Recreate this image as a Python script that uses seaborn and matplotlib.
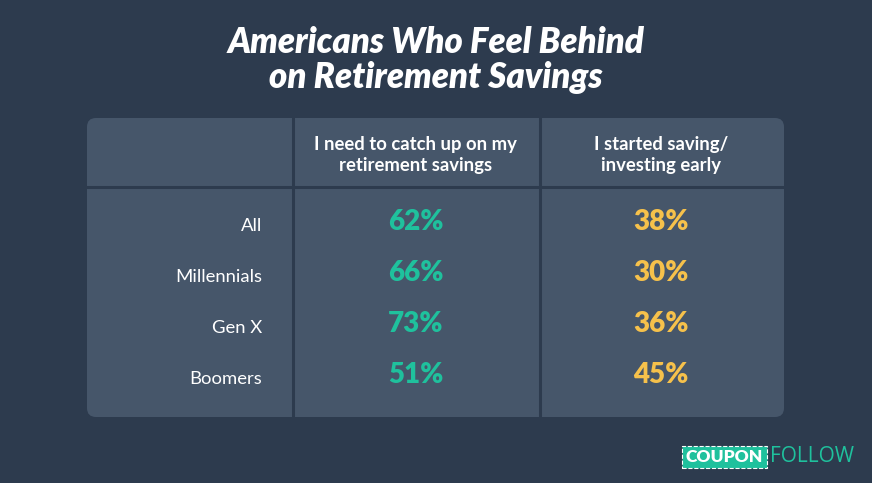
import numpy as np
import pandas as pd
import matplotlib.pyplot as plt
import seaborn as sns
from matplotlib.colors import ListedColormap
from matplotlib.patches import FancyBboxPatch
from matplotlib.lines import Line2D

# data
groups = ['All', 'Millennials', 'Gen X', 'Boomers']
columns = ['I need to catch up on my\nretirement savings', 'I started saving/\ninvesting early']
catch_up = [62, 66, 73, 51]
saved_early = [38, 30, 36, 45]

bg = '#2d3b4e'
panel = '#46566a'
teal = '#1fc19d'
yellow = '#f6c14b'
col_colors = [teal, yellow]

df = pd.DataFrame({columns[0]: catch_up, columns[1]: saved_early}, index=groups)

sns.set_theme(style='white')
plt.rcParams['font.family'] = ['Lato', 'DejaVu Sans']

fig = plt.figure(figsize=(8.72, 4.83), dpi=100, facecolor=bg)
W, H = 872, 483

def fbox(x0, y0, x1, y1):
    return [x0 / W, 1 - y1 / H, (x1 - x0) / W, (y1 - y0) / H]

# panel background with rounded corners
pax = fig.add_axes(fbox(87, 118, 784, 417))
pax.set_xlim(87, 784)
pax.set_ylim(417, 118)
pax.axis('off')
pax.add_patch(FancyBboxPatch((87, 118), 697, 299, boxstyle='round,pad=0,rounding_size=9',
                             facecolor=panel, edgecolor='none'))

# table body
ax = fig.add_axes(fbox(293, 187, 784, 417))
ax.patch.set_alpha(0)
sns.heatmap(df, ax=ax, cmap=ListedColormap([panel]), cbar=False, annot=False, linewidths=0)
ax.set_ylim(4.24, -0.27)
ax.xaxis.tick_top()
ax.tick_params(left=False, top=False, bottom=False)
ax.tick_params(axis='y', pad=16, labelsize=13.3, labelcolor='white', rotation=0)
ax.tick_params(axis='x', pad=3, labelsize=13.3, labelcolor='white', rotation=0)
for t in ax.get_xticklabels():
    t.set_fontweight('bold')
    t.set_linespacing(1.3)
    t.set_ha('center')
for sp in ax.spines.values():
    sp.set_visible(False)

for j, col in enumerate(df.columns):
    for i, v in enumerate(df[col]):
        ax.text(j + 0.5, i + 0.41, f'{v}%', ha='center', va='center',
                fontsize=20, fontweight='heavy', color=col_colors[j])

# cell separators on top
for x in [293, 540]:
    fig.add_artist(Line2D([x / W, x / W], [1 - 118 / H, 1 - 417 / H], color=bg, lw=2.2,
                          transform=fig.transFigure))
fig.add_artist(Line2D([87 / W, 784 / W], [1 - 187 / H, 1 - 187 / H], color=bg, lw=2.2,
                      transform=fig.transFigure))

fig.text(0.5, 1 - 60 / H, 'Americans Who Feel Behind\non Retirement Savings', ha='center', va='center',
         fontsize=25, fontweight='heavy', fontstyle='italic', color='white', linespacing=1.1)

# logo
fig.text(724.5 / W, 1 - 457 / H, 'COUPON', ha='center', va='center', fontsize=12.5,
         fontweight='heavy', color='white',
         bbox=dict(boxstyle='square,pad=0.2', facecolor=teal, edgecolor='white', linestyle='--', lw=0.8))
fig.text(770 / W, 1 - 457 / H, 'FOLLOW', ha='left', va='center', fontsize=15,
         color=teal, family=['Open Sans', 'DejaVu Sans'])

fig.savefig('out.png', dpi=100, facecolor=bg)
